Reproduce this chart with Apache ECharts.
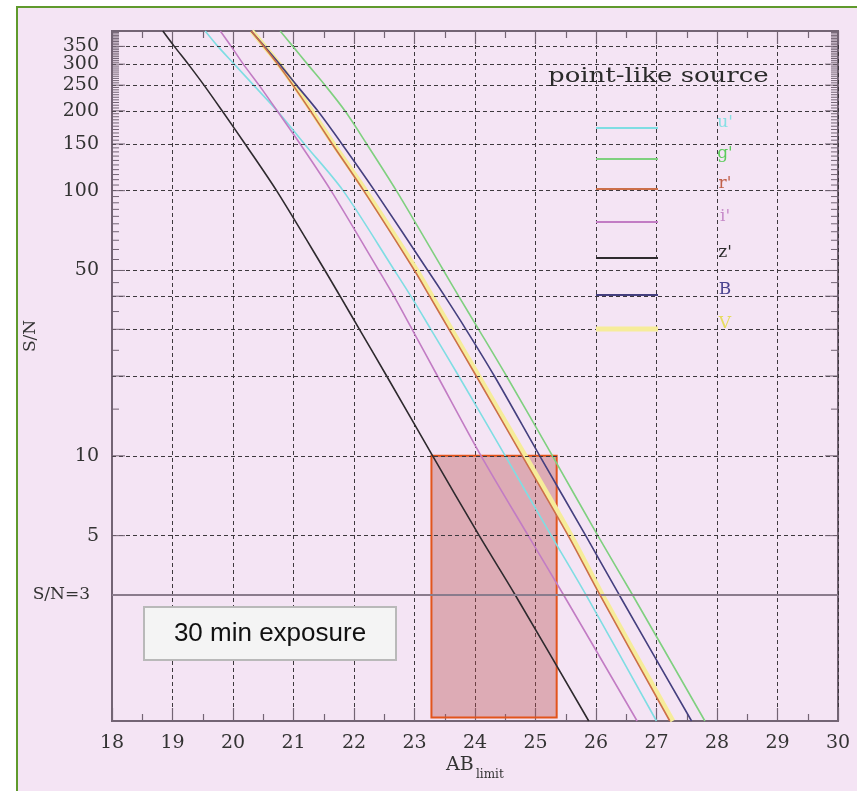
<!DOCTYPE html>
<html><head><meta charset="utf-8">
<script src="https://cdn.jsdelivr.net/npm/echarts@6/dist/echarts.min.js"></script>
<style>html,body{margin:0;padding:0;background:#fff;}#c{width:857px;height:791px;}</style>
</head><body><div id="c"></div>
<script>
// S/N levels at which each curve's limiting AB magnitude was read
const snLevels = [400, 350, 300, 250, 200, 150, 100, 50, 40, 30, 20, 10, 5, 3, 1];
const magU = [19.54, 19.75, 20.02, 20.34, 20.73, 21.18, 21.82, 22.67, 22.94, 23.27, 23.73, 24.50, 25.26, 25.83, 27.00];
const magG = [20.78, 20.99, 21.23, 21.52, 21.85, 22.21, 22.70, 23.48, 23.73, 24.06, 24.52, 25.28, 26.03, 26.60, 27.80];
const magR = [20.30, 20.51, 20.74, 20.99, 21.28, 21.64, 22.16, 23.00, 23.25, 23.57, 24.02, 24.78, 25.54, 26.06, 27.22];
const magI = [19.79, 19.97, 20.17, 20.43, 20.73, 21.11, 21.62, 22.41, 22.66, 22.96, 23.38, 24.10, 24.88, 25.46, 26.68];
const magZ = [18.84, 19.03, 19.26, 19.52, 19.82, 20.20, 20.72, 21.52, 21.77, 22.09, 22.54, 23.30, 24.07, 24.66, 25.88];
const magB = [20.30, 20.52, 20.77, 21.05, 21.40, 21.80, 22.34, 23.22, 23.50, 23.85, 24.32, 25.07, 25.83, 26.38, 27.58];
const magV = [20.31, 20.52, 20.76, 21.01, 21.30, 21.66, 22.19, 23.04, 23.29, 23.61, 24.06, 24.83, 25.59, 26.10, 27.27];

const bandNames = ["u'", "g'", "r'", "i'", "z'", "B", "V"];
const bandColors = ['#7fdde3', '#7fd07f', '#cc6f4a', '#c27cc4', '#2e2a2e', '#45407f', '#f6ec9a'];
const bandLabelColors = ['#86e0e4', '#5ccc5c', '#c0604a', '#c68ac8', '#2a2a2a', '#4a4490', '#e6dc60'];

const xMin = 18, xMax = 30;
const yMin = 1, yMax = 400;
const yGridValues = [5, 10, 20, 30, 40, 50, 100, 150, 200, 250, 300, 350];
const yGridLabels = ['5', '10', '', '', '', '50', '100', '150', '200', '250', '300', '350'];
const snLimit = 3;
const snLimitLabel = 'S/N=3';
const boxMag = [23.28, 25.35];
const boxSN = [1.03, 10];
const legendTitle = 'point-like source';
const exposureText = '30 min exposure';

const pairs = m => m.map((v, i) => [v, snLevels[i]]);
const bandData = [magU, magG, magR, magI, magZ, magB, magV].map(pairs);

// y-axis tick marks (inward, both sides)
const tickData = [];
for (let v = 10; v <= 395; v += 5) tickData.push([xMin, v, yGridValues.indexOf(v) >= 0 ? 1 : 0]);
tickData.push([xMin, 5, 1]);

const chart = echarts.init(document.getElementById('c'), null, {renderer: 'canvas'});
const serif = 'DejaVu Serif';
const frame = '#736474';

const lineSeries = (idx, width, z) => ({
  type: 'line', name: bandNames[idx], data: bandData[idx], showSymbol: false,
  smooth: 0.3,
  lineStyle: {color: bandColors[idx], width: width}, itemStyle: {color: bandColors[idx]},
  silent: true, animation: false, z: z, clip: true
});

const series = [
  Object.assign(lineSeries(6, 5, 3), {
    markLine: {
      silent: true, symbol: 'none', animation: false,
      lineStyle: {color: '#3d383d', width: 1, type: [4, 3]},
      label: {position: 'start', distance: 13, fontFamily: serif, fontSize: 19, color: '#333'},
      data: yGridValues.map((v, i) => ({yAxis: v, label: {formatter: yGridLabels[i]}}))
    },
    markArea: {
      silent: true, animation: false,
      itemStyle: {color: 'rgba(185,80,80,0.38)', borderColor: '#e2541c', borderWidth: 2},
      data: [[{xAxis: boxMag[0], yAxis: boxSN[1]}, {xAxis: boxMag[1], yAxis: boxSN[0]}]]
    }
  }),
  lineSeries(0, 1.6, 4),
  lineSeries(1, 1.6, 4),
  lineSeries(3, 1.6, 4),
  Object.assign(lineSeries(4, 1.6, 4), {
    markLine: {
      silent: true, symbol: 'none', animation: false,
      lineStyle: {color: '#8a7b8c', width: 2, type: 'solid'},
      label: {position: 'start', distance: 22, fontFamily: serif, fontSize: 17, color: '#333'},
      data: [{yAxis: snLimit, label: {formatter: snLimitLabel}}]
    }
  }),
  lineSeries(5, 1.6, 4),
  lineSeries(2, 1.6, 5),
  {
    type: 'custom', data: tickData, silent: true, animation: false, clip: false, z: 6,
    encode: {x: 0, y: 1},
    renderItem: function (params, api) {
      const v = api.value(1), major = api.value(2);
      const pL = api.coord([xMin, v]);
      const pR = api.coord([xMax, v]);
      const len = major ? 13 : 7;
      const st = {stroke: frame, lineWidth: 1};
      return {type: 'group', children: [
        {type: 'line', shape: {x1: pL[0], y1: pL[1], x2: pL[0] + len, y2: pL[1]}, style: st},
        {type: 'line', shape: {x1: pR[0] - len, y1: pR[1], x2: pR[0], y2: pR[1]}, style: st}
      ]};
    }
  }
];

const legendYs = [128, 159, 189, 222, 258, 295, 329];
const graphic = [
  {type: 'rect', z: -100, shape: {x: 17, y: 7, width: 900, height: 900},
   style: {fill: '#f4e4f4', stroke: '#5f9a2c', lineWidth: 2}},
  {type: 'text', x: 548, y: 77, scaleX: 1.3, z: 10,
   style: {text: legendTitle, font: '20px "DejaVu Serif"', fill: '#2a2a2a', textVerticalAlign: 'middle'}},
  {type: 'text', x: 31, y: 336, rotation: Math.PI / 2, z: 10,
   style: {text: 'S/N', font: '17px "DejaVu Serif"', fill: '#333', textAlign: 'center', textVerticalAlign: 'middle'}},
  {type: 'text', x: 446, y: 765, z: 10,
   style: {text: 'AB', font: '19px "DejaVu Serif"', fill: '#333', textVerticalAlign: 'middle'}},
  {type: 'text', x: 476, y: 775, z: 10,
   style: {text: 'limit', font: '12px "DejaVu Serif"', fill: '#333', textVerticalAlign: 'middle'}},
  {type: 'rect', z: 20, shape: {x: 144, y: 607, width: 252, height: 53},
   style: {fill: '#f4f4f4', stroke: '#b9b9b9', lineWidth: 2}},
  {type: 'text', x: 270, y: 634, z: 21,
   style: {text: exposureText, font: '26px "Liberation Sans"', fill: '#111', textAlign: 'center', textVerticalAlign: 'middle'}}
];
bandNames.forEach((n, i) => {
  graphic.push({type: 'line', z: 10, shape: {x1: 596, y1: legendYs[i], x2: 658, y2: legendYs[i]},
    style: {stroke: bandColors[i], lineWidth: i === 6 ? 5 : 1.8}});
  graphic.push({type: 'text', z: 10, x: 725, y: legendYs[i] - 5,
    style: {text: n, font: '17px "DejaVu Serif"', fill: bandLabelColors[i], textAlign: 'center', textVerticalAlign: 'middle'}});
});

const xAxisBase = {
  type: 'value', min: xMin, max: xMax, interval: 1,
  axisLine: {show: true, lineStyle: {color: frame, width: 2}},
  axisTick: {show: true, inside: true, length: 13, lineStyle: {color: frame, width: 1.2}},
  minorTick: {show: true, splitNumber: 2, length: 7, lineStyle: {color: frame, width: 1.2}},
};

chart.setOption({
  backgroundColor: '#ffffff',
  animation: false,
  grid: {left: 112, right: 19, top: 31, bottom: 70, show: true, borderColor: frame, borderWidth: 2, backgroundColor: 'transparent'},
  xAxis: [
    Object.assign({}, xAxisBase, {
      position: 'bottom',
      axisLabel: {show: true, margin: 13, fontFamily: serif, fontSize: 19, color: '#333'},
      splitLine: {show: true, lineStyle: {color: '#3d383d', width: 1, type: [4, 3]}}
    }),
    Object.assign({}, xAxisBase, {
      position: 'top', axisLabel: {show: false}, splitLine: {show: false}
    })
  ],
  yAxis: {
    type: 'log', logBase: 10, min: yMin, max: yMax,
    axisLine: {show: true, lineStyle: {color: frame, width: 2}},
    axisTick: {show: false}, axisLabel: {show: false}, splitLine: {show: false}, minorTick: {show: false}
  },
  graphic: graphic,
  series: series
});
</script></body></html>
